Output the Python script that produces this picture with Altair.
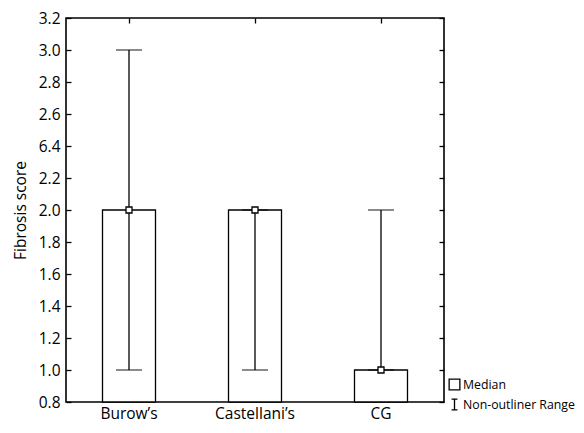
import altair as alt
import pandas as pd

categories = ["Burow\u2019s", "Castellani\u2019s", "CG"]
box_low = [0.8, 0.8, 0.8]
box_high = [2.0, 2.0, 1.0]
range_low = [1.0, 1.0, 1.0]
range_high = [3.0, 2.0, 2.0]
medians = [2.0, 2.0, 1.0]
y_ticks = [0.8, 1.0, 1.2, 1.4, 1.6, 1.8, 2.0, 2.2, 2.4, 2.6, 2.8, 3.0, 3.2]
legend_items = ["Median", "Non-outliner Range"]

df = pd.DataFrame({
    "cat": categories,
    "box_low": box_low,
    "box_high": box_high,
    "rlow": range_low,
    "rhigh": range_high,
    "median": medians,
    "kind": ["Median"] * len(categories),
})

FONT = "Open Sans"
LW = 1.3
H = 384

xscale = alt.Scale(domain=categories, paddingInner=0, paddingOuter=0)
yscale = alt.Scale(domain=[0.8, 3.2], nice=False, zero=False)

label_expr = "abs(datum.value - 2.4) < 0.001 ? '6.4' : format(datum.value, '.1f')"

base = alt.Chart(df)

boxes = base.mark_bar(size=53, fill="white", stroke="black", strokeWidth=LW).encode(
    x=alt.X("cat:N", scale=xscale, sort=categories,
            axis=alt.Axis(orient="bottom", title=None, domain=False, ticks=False,
                          labelPadding=4, labelAngle=0, labelFontSize=15.5,
                          labelFont=FONT, labelColor="black")),
    y=alt.Y("box_low:Q", scale=yscale,
            axis=alt.Axis(orient="left", values=y_ticks, labelExpr=label_expr,
                          domain=False, offset=-5, tickSize=5, tickColor="black",
                          tickWidth=LW, labelPadding=6, labelFontSize=15.5,
                          labelFont=FONT, labelColor="black",
                          title="Fibrosis score", titleFont=FONT, titleFontSize=15.5,
                          titleFontWeight="normal", titleColor="black", titlePadding=10,
                          grid=False)),
    y2="box_high:Q",
)

whisker = base.mark_rule(stroke="black", strokeWidth=LW).encode(
    x=alt.X("cat:N", scale=xscale, sort=categories,
            axis=alt.Axis(orient="top", title=None, domain=False, labels=False,
                          offset=-5, tickSize=5, tickColor="black", tickWidth=LW)),
    y=alt.Y("rlow:Q", scale=yscale,
            axis=alt.Axis(orient="right", values=y_ticks, title=None, domain=False,
                          labels=False, offset=-5, tickSize=5, tickColor="black",
                          tickWidth=LW, grid=False)),
    y2="rhigh:Q",
)

cap_low = base.mark_tick(orient="horizontal", size=26, thickness=LW, color="black").encode(
    x=alt.X("cat:N", scale=xscale, sort=categories, axis=None),
    y=alt.Y("rlow:Q", scale=yscale, axis=None),
)

cap_high = base.mark_tick(orient="horizontal", size=26, thickness=LW, color="black").encode(
    x=alt.X("cat:N", scale=xscale, sort=categories, axis=None),
    y=alt.Y("rhigh:Q", scale=yscale, axis=None),
)

legend_opts = dict(orient="none", legendX=382, legendY=H - 24,
                   title=None, symbolSize=115, symbolStrokeWidth=LW,
                   labelFont=FONT, labelFontSize=12.3, labelColor="black",
                   labelOffset=2, rowPadding=3, padding=0)

med = base.mark_point(filled=False, fill="white", strokeWidth=LW, size=36, opacity=1).encode(
    x=alt.X("cat:N", scale=xscale, sort=categories, axis=None),
    y=alt.Y("median:Q", scale=yscale, axis=None),
    color=alt.Color("kind:N",
                    scale=alt.Scale(domain=legend_items, range=["black", "black"]),
                    legend=alt.Legend(**legend_opts)),
    shape=alt.Shape("kind:N",
                    scale=alt.Scale(domain=legend_items,
                                    range=["square", "M-0.55,-1L0.55,-1M0,-1L0,1M-0.55,1L0.55,1"]),
                    legend=alt.Legend(**legend_opts)),
)

chart = alt.layer(boxes, whisker, cap_low, cap_high, med).properties(
    width=378, height=H,
    background="white",
    padding={"left": 5, "top": 3, "right": 0, "bottom": 0},
).configure_view(
    stroke="#000000", strokeWidth=1.6, strokeOpacity=1
)

chart.save("out.html", embed_options={"renderer": "svg", "actions": False})
